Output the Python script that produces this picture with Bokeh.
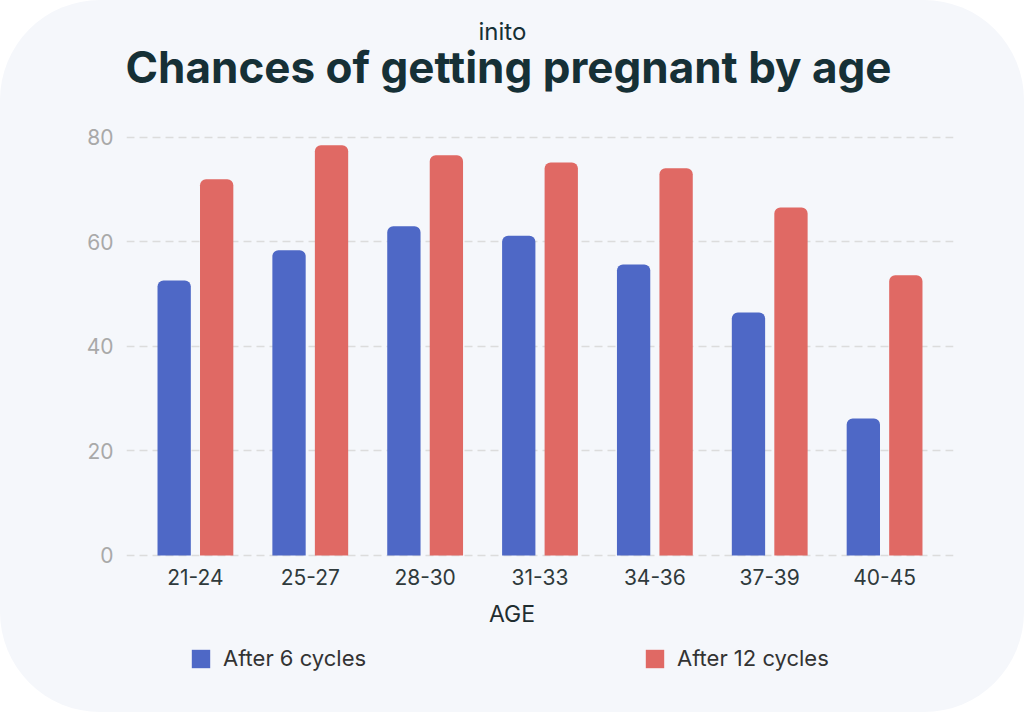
from bokeh.plotting import figure
from bokeh.models import FactorRange, Range1d, ColumnDataSource, Legend, LegendItem, Title, Label
from bokeh.transform import dodge
from bokeh.embed import file_html
from bokeh.resources import INLINE

ages = ["21-24", "25-27", "28-30", "31-33", "34-36", "37-39", "40-45"]
after_6 = [52.6, 58.4, 63.0, 61.2, 55.7, 46.5, 26.2]
after_12 = [72.0, 78.5, 76.6, 75.2, 74.1, 66.6, 53.6]
y_ticks = [0, 20, 40, 60, 80]

BLUE = "#4e68c6"
RED = "#e06964"
DARK = "#163036"
FONT = "Inter"

src = ColumnDataSource(dict(age=ages, six=after_6, twelve=after_12))

# the frame runs down to the bottom of the page so the legend can sit inside it
p = figure(width=1024, height=712,
           x_range=FactorRange(factors=ages, range_padding=0.1, range_padding_units="absolute"),
           y_range=Range1d(-30.05, 84),
           output_backend="svg", toolbar_location=None,
           min_border_left=126, min_border_right=71, min_border_top=116, min_border_bottom=0)

p.border_fill_alpha = 0
p.background_fill_alpha = 0
p.outline_line_color = None
p.styles = {"border-radius": "100px", "background-color": "#f5f7fb"}

r6 = p.vbar(x=dodge("age", -0.185, range=p.x_range), top="six", bottom=0, width=0.29,
            source=src, fill_color=BLUE, line_color=None, border_radius=(6, 6, 0, 0))
r12 = p.vbar(x=dodge("age", 0.185, range=p.x_range), top="twelve", bottom=0, width=0.29,
             source=src, fill_color=RED, line_color=None, border_radius=(6, 6, 0, 0))

p.xgrid.visible = False
p.ygrid.ticker = y_ticks
p.ygrid.grid_line_color = "#dcdcdc"
p.ygrid.grid_line_dash = "8 5"
p.ygrid.grid_line_width = 1.5

p.yaxis.ticker = y_ticks
for ax in (p.xaxis, p.yaxis):
    ax.axis_line_color = None
    ax.major_tick_line_color = None
    ax.minor_tick_line_color = None
    ax.major_label_text_font = FONT
    ax.major_label_text_font_size = "21px"

p.yaxis.major_label_text_color = "#a9a9a9"
p.yaxis.major_label_standoff = 7
p.xaxis.fixed_location = 0
p.xaxis.major_label_text_color = "#2f3a3c"
p.xaxis.major_label_standoff = 8

p.add_layout(Label(x=385.5, y=99, x_units="screen", y_units="screen", text="AGE",
                   text_align="center", text_baseline="alphabetic", text_font=FONT,
                   text_font_size="23px", text_color="#1f2d30"))

legend = Legend(items=[LegendItem(label="After 6 cycles", renderers=[r6]),
                       LegendItem(label="After 12 cycles", renderers=[r12])],
                location=(63, 41), orientation="horizontal",
                glyph_width=23, glyph_height=23, label_height=23, label_standoff=11,
                label_width=215, spacing=205, padding=0,
                border_line_color=None, background_fill_alpha=0,
                label_text_font=FONT, label_text_font_size="22px", label_text_color="#333333")
p.add_layout(legend, "center")

p.title.text = "inito"
p.title.align = "left"
p.title.offset = 352
p.title.text_font = FONT
p.title.text_font_size = "24px"
p.title.text_font_style = "normal"
p.title.text_color = DARK
p.title.standoff = -62

p.add_layout(Title(text="Chances of getting pregnant by age", align="left", offset=-1,
                   text_font=FONT, text_font_size="44px", text_font_style="bold",
                   text_color=DARK, standoff=46), "above")

open("out.html", "w").write(file_html(p, INLINE))
